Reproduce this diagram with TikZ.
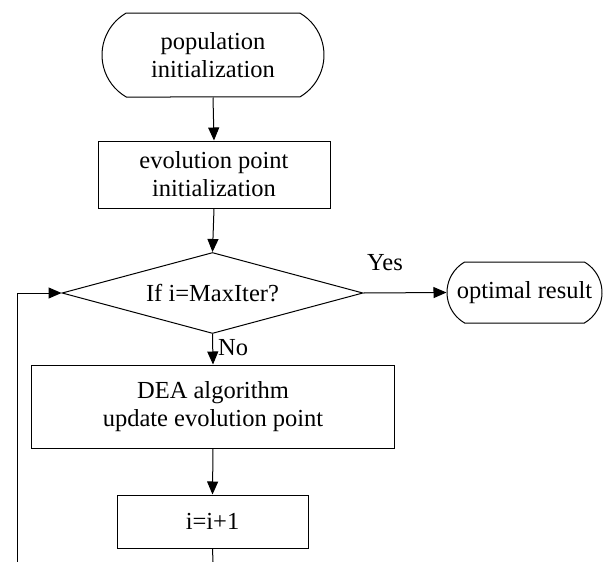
\documentclass[tikz,border=0pt]{standalone}
\usepackage{fontspec}
\setmainfont{Liberation Serif}
\usetikzlibrary{shapes.misc,shapes.geometric,arrows.meta}
\begin{document}
\begin{tikzpicture}[x=1pt,y=-1pt,
  every node/.style={font=\fontsize{24.5}{28}\selectfont},
  term/.style={draw, rounded rectangle, rounded rectangle arc length=120, inner sep=0pt, align=center, line width=1pt},
  procbox/.style={draw, rectangle, inner sep=0pt, align=center, line width=1pt},
  decision/.style={draw, diamond, inner sep=0pt, line width=1pt},
  conn/.style={line width=1pt, -{Triangle[length=13pt,width=11pt]}},
  plainline/.style={line width=1pt},
  lbl/.style={inner sep=0pt}]
\useasboundingbox (0,0) rectangle (605,562);
\node[term, minimum width=222pt, minimum height=84pt] (start) at (213,55) {population\\initialization};
\node[procbox, minimum width=232pt, minimum height=67pt] (init) at (214,174.5) {evolution point\\initialization};
\node[decision, minimum width=301pt, minimum height=81pt, aspect=3.7] (dec) at (212.5,293) {If i=MaxIter?};
\node[term, minimum width=155pt, minimum height=61pt] (res) at (524.5,292.5) {optimal result};
\node[procbox, minimum width=363pt, minimum height=83pt] (dea) at (213,406.5) {DEA algorithm\\update evolution point};
\node[procbox, minimum width=191pt, minimum height=53pt] (inc) at (212.5,521.5) {i=i+1};
\node[lbl] (yes) at (385,263) {Yes};
\node[lbl, anchor=west] (no) at (218,348) {No};
\coordinate (incout) at (213,562);
\coordinate (loopin) at (17,562);
\draw[conn] (start.south) -- (init.north);
\draw[conn] (init.south) -- (dec.north);
\draw[conn] (dec.east) -- (res.west);
\draw[conn] (dec.south) -- (dea.north);
\draw[conn] (dea.south) -- (inc.north);
\draw[plainline] (inc.south) -- (incout);
\draw[conn] (loopin) |- (dec.west);
\end{tikzpicture}
\end{document}
